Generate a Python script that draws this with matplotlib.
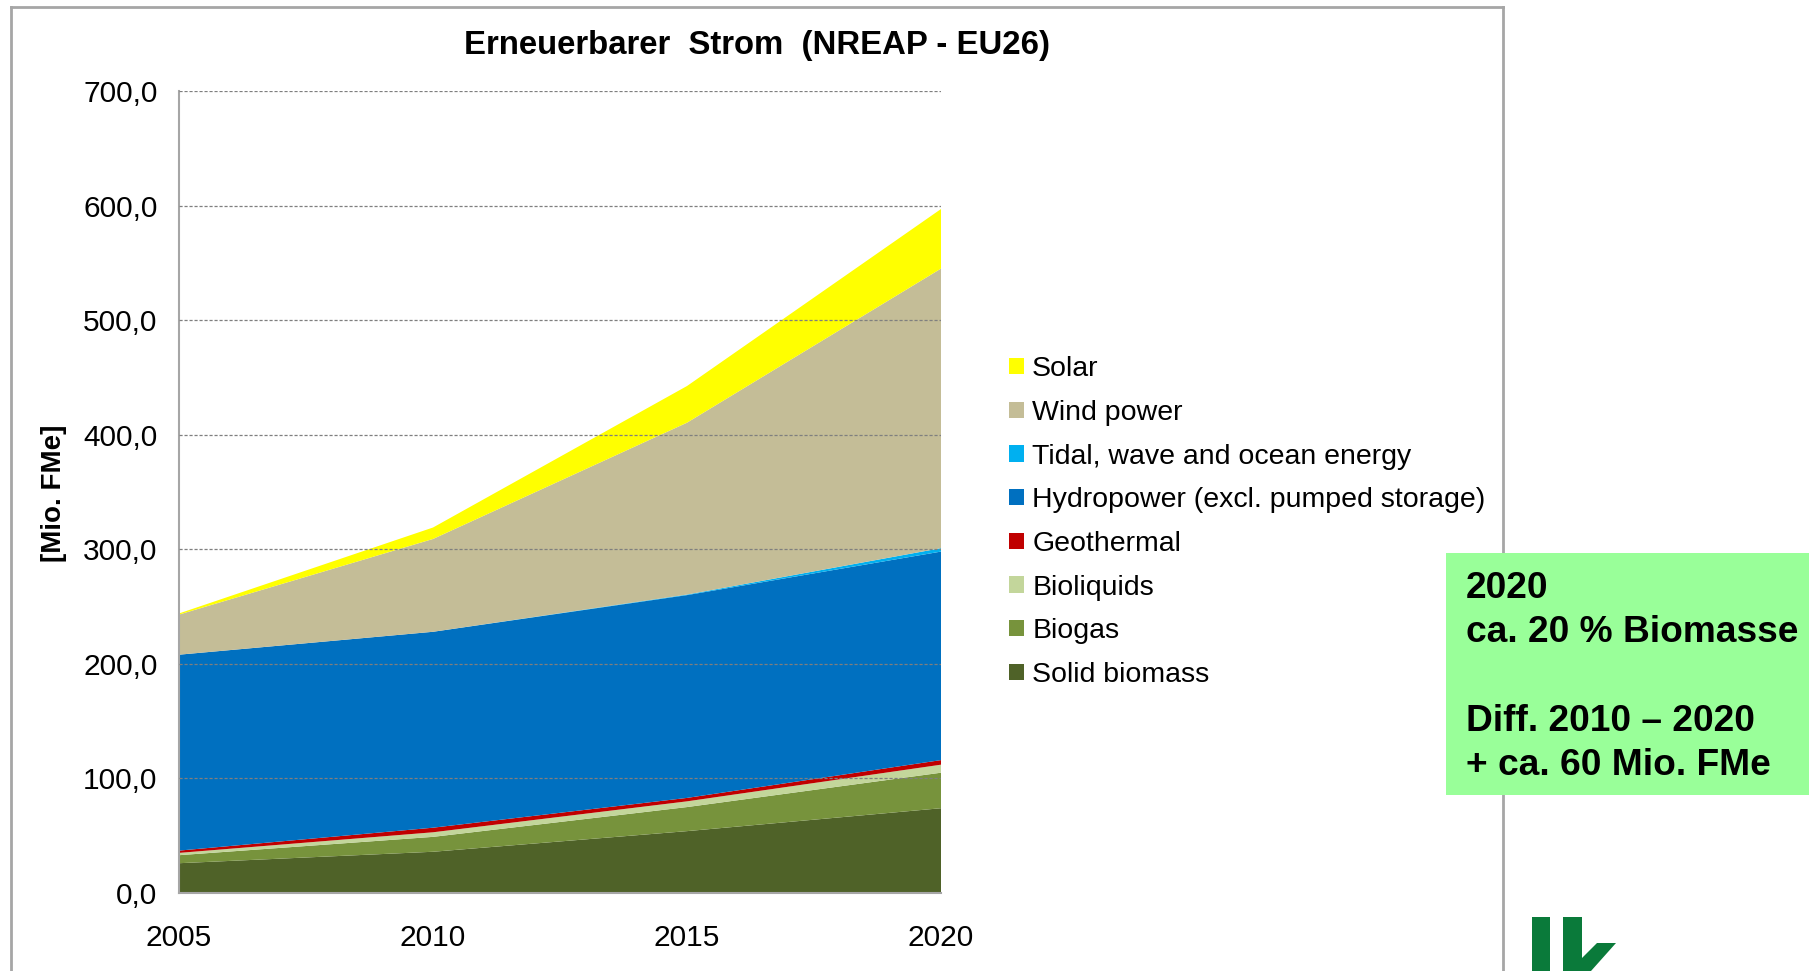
import matplotlib
matplotlib.use("Agg")
import matplotlib.pyplot as plt
from matplotlib.patches import Rectangle, Polygon
from matplotlib.lines import Line2D
from matplotlib.ticker import FuncFormatter

plt.rcParams['font.family'] = ['Liberation Sans', 'DejaVu Sans']

years = [2005, 2010, 2015, 2020]
series_names = ["Solid biomass", "Biogas", "Bioliquids", "Geothermal",
                "Hydropower (excl. pumped storage)", "Tidal, wave and ocean energy",
                "Wind power", "Solar"]
solid_biomass = [26, 36, 54, 74]
biogas = [7, 13, 21, 31]
bioliquids = [2, 4, 5, 7]
geothermal = [2, 4, 3, 4]
hydropower = [171, 171, 177, 182]
tidal = [0, 0, 0.5, 3]
wind = [35, 81, 150, 244]
solar = [1, 10, 32, 52]
colors = ["#4F6228", "#77933C", "#C3D69B", "#C00000", "#0070C0", "#00B0F0", "#C4BD97", "#FFFF00"]
y_ticks = [0, 100, 200, 300, 400, 500, 600, 700]
title = "Erneuerbarer  Strom  (NREAP - EU26)"
ylabel = "[Mio. FMe]"
box_lines = ["2020", "ca. 20 % Biomasse", "", "Diff. 2010 \u2013 2020", "+ ca. 60 Mio. FMe"]

W, H = 1809, 971
fig = plt.figure(figsize=(W / 100, H / 100), dpi=100)

def fx(px):
    return px / W

def fy(py):
    return 1 - py / H

# outer frame
frame_col = "#A6A6A6"
fig.add_artist(Line2D([fx(11), fx(11)], [fy(7), 0], color=frame_col, lw=2, transform=fig.transFigure))
fig.add_artist(Line2D([fx(11), fx(1503)], [fy(7), fy(7)], color=frame_col, lw=2, transform=fig.transFigure))
fig.add_artist(Line2D([fx(1503), fx(1503)], [fy(7), 0], color=frame_col, lw=2, transform=fig.transFigure))

ax = fig.add_axes([fx(179), fy(893), fx(941) - fx(179), fy(91) - fy(893)])
data = [solid_biomass, biogas, bioliquids, geothermal, hydropower, tidal, wind, solar]
polys = ax.stackplot(years, *data, colors=colors, labels=series_names, lw=0)
ax.set_xlim(2005, 2020)
ax.set_ylim(0, 700)
ax.set_yticks(y_ticks)
ax.set_xticks(years)
ax.yaxis.set_major_formatter(FuncFormatter(lambda v, p: f"{v:.1f}".replace(".", ",")))
ax.tick_params(axis='both', length=0, labelsize=21.5, colors="black")
ax.tick_params(axis='y', pad=15.5)
ax.tick_params(axis='x', pad=22)
for s in ["top", "right"]:
    ax.spines[s].set_visible(False)
for s in ["left", "bottom"]:
    ax.spines[s].set_color("#A6A6A6")
    ax.spines[s].set_linewidth(1.5)
ax.yaxis.grid(True, linestyle=(0, (2.5, 1.5)), color="#7F7F7F", lw=0.9)
ax.set_axisbelow(False)
for p in polys:
    p.set_zorder(2)
ax.yaxis.get_gridlines()[0].set_visible(False)
ax.set_facecolor("none")

fig.text(fx(757), fy(45.5), title, ha="center", va="center", fontsize=23.7, fontweight="bold")
fig.text(fx(54), fy(493), ylabel, ha="center", va="center", rotation=90, fontsize=20, fontweight="bold")

handles, labels = ax.get_legend_handles_labels()
leg = fig.legend(handles[::-1], labels[::-1], loc="upper left",
                 bbox_to_anchor=(fx(998), fy(345)), frameon=False,
                 fontsize=20.5, handlelength=0.5, handleheight=0.5,
                 handletextpad=0.3, labelspacing=0.62, borderaxespad=0)

# green box
fig.add_artist(Rectangle((fx(1446), fy(795)), fx(1809) - fx(1446), fy(553) - fy(795),
                         facecolor="#99FF99", edgecolor="none", transform=fig.transFigure, zorder=5))
for i, line in enumerate(box_lines):
    fig.text(fx(1466), fy(588 + i * 44.4), line, ha="left", va="center",
             fontsize=26.7, fontweight="bold", zorder=6)

# logo fragment
logo_col = "#0A7A3A"
fig.add_artist(Rectangle((fx(1532), 0), fx(18), fy(917), facecolor=logo_col, edgecolor="none",
                         transform=fig.transFigure))
fig.add_artist(Rectangle((fx(1563), 0), fx(19), fy(917), facecolor=logo_col, edgecolor="none",
                         transform=fig.transFigure))
fig.add_artist(Polygon([(fx(1582), fy(958)), (fx(1597), fy(943)), (fx(1616), fy(943)),
                        (fx(1591), fy(971)), (fx(1582), fy(971))], closed=True,
                       facecolor=logo_col, edgecolor="none", transform=fig.transFigure))

fig.savefig("out.png", dpi=100)
